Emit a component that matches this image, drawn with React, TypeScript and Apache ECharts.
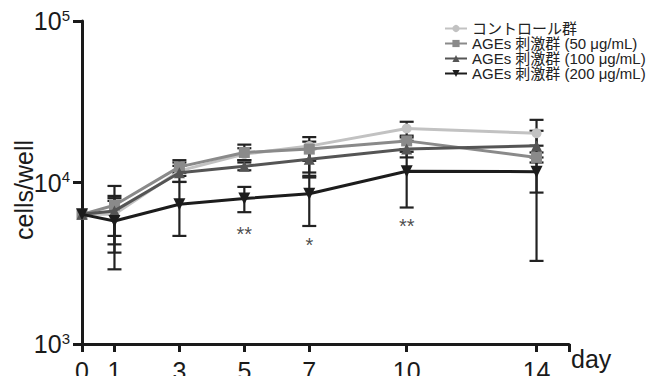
import React, { useEffect, useRef } from "react";
import * as echarts from "echarts";

const days = [0, 1, 3, 5, 7, 10, 14];
const seriesNames = [
  "コントロール群",
  "AGEs 刺激群 (50 μg/mL)",
  "AGEs 刺激群 (100 μg/mL)",
  "AGEs 刺激群 (200 μg/mL)",
];

const controlMean = [6350, 6360, 11800, 15000, 16800, 21600, 20200];
const controlLow = [6350, 4670, 10990, 13750, 13620, 19010, 16900];
const controlHigh = [6350, 8260, 12670, 16300, 19100, 23770, 24430];

const ag50Mean = [6350, 7230, 12500, 15350, 16100, 18100, 14300];
const ag50Low = [6350, 4140, 11500, 13750, 11530, 16100, 8660];
const ag50High = [6350, 9520, 13750, 17160, 17910, 19500, 15350];

const ag100Mean = [6350, 6670, 11500, 12600, 13950, 16100, 16900];
const ag100Low = [6350, 3680, 10080, 11900, 10740, 14300, 14290];
const ag100High = [6350, 7690, 13300, 13300, 16100, 18120, 20900];

const ag200Mean = [6350, 5780, 7330, 7960, 8520, 11750, 11670];
const ag200Low = [6350, 2900, 4670, 6550, 5380, 7000, 3270];
const ag200High = [6350, 8000, 10080, 9390, 11000, 15490, 13300];

const sigDays = [5, 7, 10];
const sigMarks = ["**", "*", "**"];
const sigY = [4800, 4080, 5370];

const xTickValues = [0, 1, 3, 5, 7, 10, 14, 15];
const xLabelValues = [0, 1, 3, 5, 7, 10, 14];

const colors = ["#c2c2c2", "#8a8a8a", "#555555", "#1c1c1c"];
const symbols = ["circle", "rect", "triangle", "triangle"];
const symbolSizes = [10, 11, 11, 12];
const symbolRotates = [0, 0, 0, 180];

const FONT = 'Arial, "Liberation Sans", "Noto Sans CJK JP", sans-serif';

export default function App() {
  const ref = useRef<HTMLDivElement>(null);
  useEffect(() => {
    document.body.style.margin = "0";
    if (!ref.current) return;
    const chart = echarts.init(ref.current, null, { renderer: "svg" });
    const means = [controlMean, ag50Mean, ag100Mean, ag200Mean];
    const lows = [controlLow, ag50Low, ag100Low, ag200Low];
    const highs = [controlHigh, ag50High, ag100High, ag200High];

    const errSeries = means.map((_, si) => ({
      type: "custom",
      name: seriesNames[si] + " err",
      z: 1,
      silent: true,
      encode: { x: 0, y: [1, 2] },
      data: days.map((d, i) => [d, lows[si][i], highs[si][i]]),
      renderItem: (params: any, api: any) => {
        const x = api.value(0);
        const lo = api.value(1);
        const hi = api.value(2);
        if (lo === hi) return null;
        const pLo = api.coord([x, lo]);
        const pHi = api.coord([x, hi]);
        const w = 7;
        const st = { stroke: "#222222", lineWidth: 2.2 };
        return {
          type: "group",
          children: [
            { type: "line", shape: { x1: pLo[0], y1: pLo[1], x2: pHi[0], y2: pHi[1] }, style: st },
            { type: "line", shape: { x1: pLo[0] - w, y1: pLo[1], x2: pLo[0] + w, y2: pLo[1] }, style: st },
            { type: "line", shape: { x1: pHi[0] - w, y1: pHi[1], x2: pHi[0] + w, y2: pHi[1] }, style: st },
          ],
        };
      },
    }));

    const lineSeries = means.map((m, si) => ({
      type: "line",
      name: seriesNames[si],
      z: 2 + si,
      data: days.map((d, i) => [d, m[i]]),
      symbol: symbols[si],
      symbolSize: symbolSizes[si],
      symbolRotate: symbolRotates[si],
      lineStyle: { color: colors[si], width: 3 },
      itemStyle: { color: colors[si], opacity: 1 },
      emphasis: { disabled: true },
    }));

    const sigSeries = {
      type: "scatter",
      name: "sig",
      z: 10,
      symbolSize: 0,
      data: sigDays.map((d, i) => [d, sigY[i]]),
      label: {
        show: true,
        position: "inside",
        formatter: (p: any) => sigMarks[p.dataIndex],
        fontSize: 20,
        color: "#1a1a1a",
        fontFamily: FONT,
      },
    };

    chart.setOption({
      animation: false,
      backgroundColor: "#ffffff",
      textStyle: { fontFamily: FONT },
      grid: { left: 82, right: 82, top: 21, bottom: 32, containLabel: false, outerBoundsMode: "none" },
      legend: {
        orient: "vertical",
        left: 439,
        top: 16,
        itemWidth: 22,
        itemHeight: 9,
        itemGap: 0,
        data: seriesNames,
        textStyle: { fontSize: 15, lineHeight: 14, color: "#222222", fontFamily: FONT },
      },
      xAxis: {
        type: "value",
        min: 0,
        max: 15,
        splitLine: { show: false },
        axisLine: { show: true, lineStyle: { color: "#1a1a1a", width: 3 } },
        axisTick: { show: true, length: 8, lineStyle: { width: 3, color: "#1a1a1a" }, customValues: xTickValues },
        axisLabel: { fontSize: 25, color: "#1a1a1a", margin: 14, customValues: xLabelValues, fontFamily: FONT },
      },
      yAxis: {
        type: "log",
        logBase: 10,
        min: 1000,
        max: 100000,
        splitLine: { show: false },
        minorTick: { show: false },
        axisLine: { show: true, lineStyle: { color: "#1a1a1a", width: 3 } },
        axisTick: { show: true, length: 9, lineStyle: { width: 3, color: "#1a1a1a" } },
        axisLabel: {
          margin: 12,
          formatter: (v: number) => `{b|10}{s|${Math.round(Math.log10(v))}}`,
          rich: {
            b: { fontSize: 25, color: "#1a1a1a", fontFamily: FONT },
            s: { fontSize: 15, color: "#1a1a1a", fontFamily: FONT, padding: [0, 0, 12, 0] },
          },
        },
      },
      graphic: [
        {
          type: "text",
          x: 24,
          y: 190,
          rotation: Math.PI / 2,
          style: {
            text: "cells/well",
            fontSize: 25,
            fontFamily: FONT,
            fill: "#1a1a1a",
            align: "center",
            verticalAlign: "middle",
          },
        },
        {
          type: "text",
          x: 571,
          y: 346,
          style: { text: "day", fontSize: 25, fontFamily: FONT, fill: "#1a1a1a" },
        },
      ],
      series: [...errSeries, ...lineSeries, sigSeries],
    });
    return () => chart.dispose();
  }, []);
  return <div ref={ref} style={{ width: 651, height: 376 }} />;
}
